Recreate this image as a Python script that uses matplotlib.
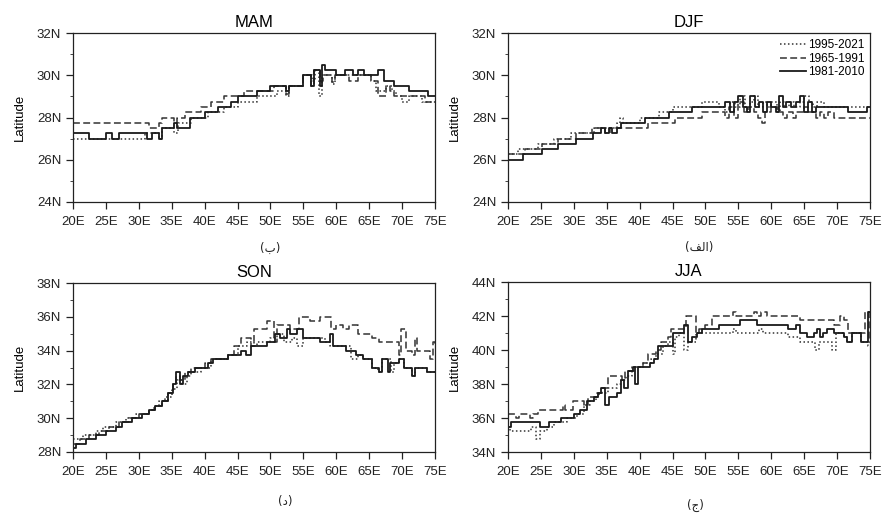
import matplotlib
matplotlib.use("Agg")
import matplotlib.pyplot as plt
from matplotlib.ticker import MultipleLocator, FuncFormatter

# ---------------- data (lon, lat) step points ----------------
mam_1995 = [(20, 27.0), (31, 27.25), (33, 27.0), (33.5, 27.5), (35.3, 27.25), (36, 27.75),
            (38, 28.0), (40.5, 28.25), (43, 28.5), (45, 28.75), (48, 29.0), (51, 29.25),
            (52.3, 29.0), (52.8, 29.5), (55, 30.0), (56.3, 29.75), (56.7, 30.25), (57.3, 29.0),
            (57.8, 30.0), (59.3, 29.6), (59.8, 30.0), (65.3, 29.75), (66, 29.25), (67.5, 29.5),
            (68.5, 29.25), (69, 29.0), (70, 28.75), (71, 29.0), (73, 28.75), (75, 28.75)]
mam_1965 = [(20, 27.75), (31.5, 27.5), (33, 27.75), (33.5, 28.0), (35.3, 27.75), (35.8, 28.0),
            (37, 28.25), (39.5, 28.5), (41, 28.75), (43, 29.0), (46, 29.25), (50.5, 29.5),
            (52.3, 29.1), (52.8, 29.5), (55, 30.0), (56.2, 29.5), (56.6, 30.25), (57.6, 29.75),
            (58, 30.0), (59.3, 29.7), (59.8, 30.0), (62, 29.75), (63.3, 30.0), (65.3, 29.75),
            (66.3, 29.0), (67.5, 29.5), (68.2, 29.25), (68.8, 29.0), (73.5, 28.75), (75, 28.75)]
mam_1981 = [(20, 27.25), (22.5, 27.0), (25, 27.25), (26, 27.0), (27, 27.25), (31.3, 27.0),
            (32, 27.25), (33, 27.0), (33.5, 27.5), (35.3, 27.75), (35.8, 27.5), (37.8, 28.0),
            (40, 28.25), (42, 28.5), (44, 28.75), (45, 29.0), (48, 29.25), (50, 29.5),
            (52.3, 29.25), (52.8, 29.5), (55, 30.0), (56.2, 29.5), (56.6, 30.25), (57.6, 29.5),
            (57.9, 30.5), (58.3, 30.25), (60, 30.0), (61.3, 30.25), (62.6, 30.0), (63.3, 30.25),
            (64.2, 30.0), (66.3, 30.25), (67.2, 29.75), (68.7, 29.5), (71, 29.25), (74, 29.0),
            (75, 29.0)]

djf_1995 = [(20, 26.25), (21.5, 26.5), (24.5, 26.75), (27, 27.0), (29.5, 27.25), (33, 27.5),
            (36.5, 27.75), (37, 28.0), (37.5, 27.75), (40, 28.0), (43, 28.25), (45, 28.5),
            (49.5, 28.75), (52, 28.5), (53, 28.25), (53.8, 28.75), (54.5, 28.5), (55.3, 29.0),
            (56, 28.5), (56.7, 28.75), (57.3, 29.0), (58, 28.5), (58.7, 28.75), (59.4, 28.5),
            (60, 28.75), (60.8, 28.25), (61.4, 28.75), (62, 28.5), (62.7, 28.75), (63.5, 28.5),
            (64.3, 28.75), (65, 29.0), (65.7, 28.75), (66.4, 28.5), (67, 28.75), (68, 28.5),
            (75, 28.5)]
djf_1965 = [(20, 26.25), (22.6, 26.5), (25.1, 26.75), (27.6, 27.0), (30.4, 27.25), (32.7, 27.5),
            (34.7, 27.25), (35.5, 27.5), (37.2, 27.5), (41.3, 27.75), (45.4, 28.0), (49.4, 28.25),
            (53, 28.0), (53.6, 28.5), (54.3, 28.0), (55, 28.75), (55.8, 28.25), (56.5, 28.5),
            (57.3, 28.25), (58, 28.0), (58.6, 27.75), (59.1, 28.25), (60, 28.5), (61, 28.25),
            (61.8, 28.0), (62.4, 28.25), (63.3, 28.0), (63.8, 28.25), (65, 28.5), (65.6, 28.25),
            (66.8, 28.0), (67.4, 28.25), (68, 28.0), (68.6, 28.25), (69.5, 28.0), (75, 28.0)]
djf_1981 = [(20, 26.0), (22.3, 26.25), (25.1, 26.5), (27.6, 26.75), (30.4, 27.0), (32.9, 27.25),
            (34.2, 27.5), (34.7, 27.25), (35.3, 27.5), (35.8, 27.25), (36.5, 27.5), (37.2, 27.75),
            (40.8, 28.0), (44.4, 28.25), (48, 28.5), (53, 28.75), (53.8, 28.25), (54.3, 28.75),
            (55, 29.0), (55.7, 28.5), (56.3, 28.25), (56.8, 29.0), (57.5, 28.5), (58.2, 28.75),
            (58.7, 28.25), (59.3, 28.75), (60, 28.5), (60.7, 28.25), (61.2, 29.0), (61.8, 28.5),
            (62.3, 28.75), (63, 28.5), (63.7, 28.75), (64.3, 29.0), (65, 28.25), (65.6, 28.75),
            (66.2, 28.25), (66.8, 28.5), (71.6, 28.25), (74.6, 28.5), (75, 28.5)]

son_1995 = [(20, 28.75), (21.5, 29.0), (23.5, 29.25), (24.5, 29.5), (26.5, 29.75), (28, 30.0),
            (29.5, 30.25), (31.5, 30.5), (32.3, 30.75), (33, 31.0), (34, 31.25), (35, 31.75),
            (35.8, 32.25), (36.5, 32.0), (37.3, 32.5), (38, 32.75), (39.5, 33.0), (41, 33.5),
            (43.5, 33.75), (45, 34.25), (46.5, 34.5), (47.5, 34.25), (48, 34.5), (50, 34.75),
            (51, 35.0), (52, 34.5), (53.3, 34.75), (54, 34.25), (55, 34.75), (58.3, 34.5),
            (59, 34.25), (62.3, 33.5), (63.3, 33.75), (64, 33.5), (65.5, 33.0), (66.3, 32.75),
            (67, 33.5), (68.3, 32.75), (68.8, 33.25), (69.5, 33.5), (70.3, 33.0), (71.5, 32.5),
            (72, 33.0), (73.8, 32.75), (75, 32.75)]
son_1965 = [(20, 28.5), (21, 28.75), (22.5, 29.0), (24, 29.25), (25.5, 29.5), (27, 29.75),
            (28.5, 30.0), (30, 30.25), (31.5, 30.5), (32.5, 30.75), (33.5, 31.0), (34.5, 31.5),
            (35.2, 32.0), (35.7, 32.5), (36.2, 32.25), (37, 32.75), (38, 33.0), (40, 33.25),
            (41, 33.5), (43.5, 33.75), (44.5, 34.25), (45.5, 34.75), (47, 34.25), (47.5, 35.25),
            (49.5, 35.75), (50.5, 34.5), (51, 35.5), (53, 35.25), (54.3, 36.0), (56, 35.75),
            (57.5, 36.0), (59.2, 35.25), (60, 35.5), (61, 35.25), (62, 35.5), (63.3, 35.0),
            (65.5, 34.75), (66.5, 34.5), (69.5, 33.75), (69.9, 35.25), (70.6, 34.0), (71.5, 33.75),
            (71.9, 34.75), (72.3, 34.0), (74.2, 33.5), (74.7, 34.5), (75, 34.25)]
son_1981 = [(20, 28.25), (20.5, 28.5), (22, 28.75), (23.5, 29.0), (25, 29.25), (26.5, 29.5),
            (27.5, 29.75), (29, 30.0), (30.5, 30.25), (31.5, 30.5), (32.5, 30.75), (33.5, 31.0),
            (34.5, 31.5), (35.2, 32.0), (35.7, 32.75), (36.2, 32.0), (36.7, 32.5), (37.5, 32.75),
            (38.5, 33.0), (40.5, 33.25), (41.3, 33.5), (43.5, 33.75), (45.5, 34.0), (46.3, 33.75),
            (47, 34.25), (49.5, 34.5), (50.7, 35.0), (51.5, 34.75), (52.5, 35.25), (53, 35.0),
            (54, 35.25), (55, 34.75), (57.5, 34.5), (59, 35.0), (59.5, 34.25), (61.5, 34.0),
            (63, 33.75), (64, 33.5), (65.5, 33.0), (66.5, 32.75), (67, 33.5), (67.8, 32.75),
            (68.2, 33.25), (69.5, 33.5), (70.3, 33.0), (71.5, 32.5), (72, 33.0), (73.8, 32.75),
            (75, 32.75)]

jja_1995 = [(20, 35.5), (20.3, 35.25), (23.5, 35.5), (24.2, 34.75), (24.8, 35.25), (26, 35.5),
            (27, 35.75), (29, 36.0), (30.5, 36.25), (31.5, 36.75), (32.5, 37.0), (33.3, 37.25),
            (33.8, 37.5), (35.2, 37.75), (36.5, 38.0), (37.2, 38.25), (38, 38.5), (38.8, 39.0),
            (40.5, 39.25), (41.8, 39.5), (42.5, 39.75), (43.5, 40.25), (44.3, 40.5), (45, 39.75),
            (45.4, 40.75), (46, 41.0), (46.8, 40.0), (47.3, 40.5), (48.5, 41.0), (54.2, 41.25),
            (54.6, 41.0), (58.2, 41.25), (58.8, 41.0), (62.5, 40.75), (64.3, 40.5), (66.7, 40.0),
            (67.2, 40.5), (69.3, 40.0), (69.8, 41.0), (71, 40.75), (71.5, 40.5), (72.2, 41.0),
            (73.7, 40.5), (74.7, 40.25), (75, 40.25)]
jja_1965 = [(20, 36.25), (21.2, 36.0), (21.6, 36.25), (23.3, 36.0), (23.8, 36.25), (24.5, 36.5),
            (28.3, 36.75), (28.7, 36.5), (29.8, 37.0), (31.5, 36.75), (32.2, 37.25), (33.5, 37.5),
            (34.3, 37.75), (35.2, 38.5), (37.3, 38.25), (37.8, 38.75), (39.3, 39.0), (40.5, 39.25),
            (41.3, 39.75), (42.5, 40.0), (43.3, 40.5), (44.3, 40.75), (44.8, 41.25), (47, 42.0),
            (48.6, 41.0), (49, 41.25), (50, 41.5), (51, 42.0), (54.2, 42.25), (54.7, 42.0),
            (57.4, 42.25), (57.8, 42.0), (58.5, 42.25), (59.4, 42.0), (64.4, 41.75), (69.5, 41.5),
            (70.4, 42.0), (71, 41.75), (71.7, 41.0), (74.2, 42.25), (74.8, 40.5), (75, 40.5)]
jja_1981 = [(20, 35.5), (20.5, 35.75), (24.8, 35.5), (26.3, 35.75), (28, 36.0), (30, 36.25),
            (31, 36.5), (32, 37.0), (33, 37.25), (33.7, 37.5), (34.2, 37.75), (34.8, 36.75),
            (35.3, 37.25), (36.5, 37.5), (37.2, 38.25), (37.7, 37.75), (38.2, 38.75), (39, 39.0),
            (39.3, 38.0), (39.8, 39.0), (41.5, 39.25), (42.2, 39.5), (42.8, 40.25), (45, 41.0),
            (46.7, 41.5), (47.3, 40.5), (48, 40.75), (48.7, 41.0), (49.5, 41.25), (52, 41.5),
            (55.3, 41.75), (57.8, 41.5), (62.5, 41.25), (63.8, 41.5), (64.3, 41.0), (65.5, 40.75),
            (66.5, 41.0), (67, 41.25), (67.4, 40.75), (67.8, 41.0), (68.5, 41.25), (69.5, 41.0),
            (71, 40.75), (71.5, 40.5), (72.2, 41.0), (73.7, 40.5), (74.7, 42.25), (75, 42.25)]

periods = ["1995-2021", "1965-1991", "1981-2010"]
seasons = ["MAM", "DJF", "SON", "JJA"]
panel_labels = ["(\u0628)", "(\uFED2\uFEDF\uFE8D)", "(\u062F)", "(\u062C)"]
ylims = [(24, 32), (24, 32), (28, 38), (34, 44)]
xticks = list(range(20, 80, 5))

series = {
    "MAM": [mam_1995, mam_1965, mam_1981],
    "DJF": [djf_1995, djf_1965, djf_1981],
    "SON": [son_1995, son_1965, son_1981],
    "JJA": [jja_1995, jja_1965, jja_1981],
}

# ---------------- figure ----------------
plt.rcParams['font.family'] = ['Liberation Sans', 'DejaVu Sans']
W, H = 883, 515
fig = plt.figure(figsize=(W / 100, H / 100), dpi=100)

# axes boxes in pixels: left, top, right, bottom
boxes = [(73, 33, 435, 202), (508, 33, 870, 202), (73, 283, 435, 452), (508, 282, 870, 452)]
label_pos = [(270, 248), (699, 248), (285, 501), (695, 505)]

styles = [dict(linestyle=(0, (1.0, 1.6)), lw=1.1, color='#333333'),
          dict(linestyle=(0, (4.5, 2.2)), lw=1.1, color='#333333'),
          dict(linestyle='-', lw=1.3, color='#1a1a1a')]

for i, season in enumerate(seasons):
    l, t, r, b = boxes[i]
    ax = fig.add_axes([l / W, 1 - b / H, (r - l) / W, (b - t) / H])
    handles = []
    for data, st, name in zip(series[season], styles, periods):
        xs = [p[0] for p in data]
        ys = [p[1] for p in data]
        h, = ax.plot(xs, ys, drawstyle='steps-post', label=name, **st)
        handles.append(h)
    ax.set_xlim(20, 75)
    ax.set_ylim(*ylims[i])
    ax.set_xticks(xticks)
    ax.xaxis.set_major_formatter(FuncFormatter(lambda v, p: f"{int(v)}E"))
    ax.yaxis.set_major_locator(MultipleLocator(2))
    ax.yaxis.set_minor_locator(MultipleLocator(1))
    ax.yaxis.set_major_formatter(FuncFormatter(lambda v, p: f"{int(v)}N"))
    ax.tick_params(axis='both', which='major', direction='out', length=5, width=0.9,
                   labelsize=9.5, colors='#222222')
    ax.tick_params(axis='x', which='major', pad=5)
    ax.tick_params(axis='y', which='minor', direction='out', length=2.5, width=0.7, colors='#444444')
    ax.tick_params(axis='x', which='minor', bottom=False)
    for sp in ax.spines.values():
        sp.set_linewidth(0.9)
        sp.set_color('#222222')
    ax.set_ylabel("Latitude", fontsize=9.5, labelpad=8)
    ax.set_title(season, fontsize=12, pad=4)
    fig.text(label_pos[i][0] / W, 1 - label_pos[i][1] / H, panel_labels[i],
             family='DejaVu Sans', fontsize=8.5, ha='center', va='center', color='#222222')
    if season == "DJF":
        ax.legend(handles=handles, loc='upper right', frameon=False, fontsize=8.5,
                  handlelength=2.2, handletextpad=0.1, labelspacing=0.15,
                  borderaxespad=0.3, borderpad=0.2)

fig.savefig("out.png", dpi=100)
